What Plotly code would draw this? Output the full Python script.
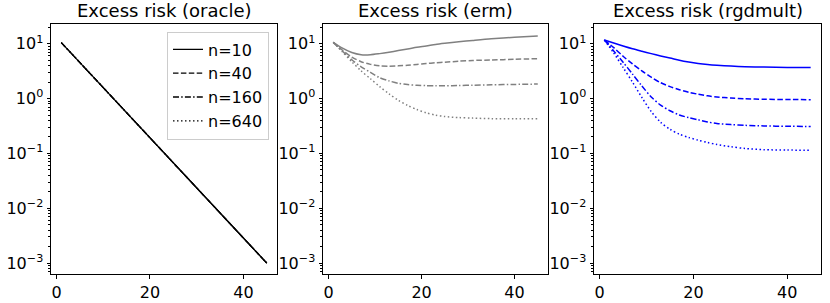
import plotly.graph_objects as go

# ---- data ----
n_labels = ["n=10", "n=40", "n=160", "n=640"]
panel_titles = ["Excess risk (oracle)", "Excess risk (erm)", "Excess risk (rgdmult)"]

oracle_x = [1, 10, 20, 30, 40, 45]
oracle_y = [10.5, 1.58, 0.192, 0.0234, 0.00287, 0.001]

steps = [1, 3, 5, 7, 9, 11, 13, 15, 17, 19, 21, 23, 25, 28, 31, 35, 40, 45]

erm_n10 = [10.6, 8.3, 6.9, 6.3, 6.3, 6.6, 7.0, 7.5, 8.0, 8.6, 9.1, 9.7, 10.2, 10.9, 11.5, 12.3, 13.1, 13.8]
erm_n40 = [10.6, 7.6, 5.7, 4.7, 4.2, 3.95, 3.9, 3.95, 4.05, 4.2, 4.35, 4.5, 4.6, 4.8, 4.95, 5.05, 5.2, 5.35]
erm_n160 = [10.6, 7.3, 5.1, 3.8, 3.0, 2.4, 2.1, 1.9, 1.8, 1.75, 1.72, 1.71, 1.71, 1.73, 1.75, 1.78, 1.81, 1.84]
erm_n640 = [10.6, 7.1, 4.7, 3.2, 2.3, 1.65, 1.22, 0.93, 0.75, 0.63, 0.55, 0.50, 0.47, 0.45, 0.44, 0.43, 0.43, 0.43]

rgd_n10 = [11.7, 10.3, 9.1, 8.1, 7.3, 6.6, 6.0, 5.5, 5.0, 4.63, 4.36, 4.17, 4.04, 3.91, 3.82, 3.75, 3.7, 3.67]
rgd_n40 = [11.7, 8.5, 5.9, 4.3, 3.2, 2.45, 1.95, 1.65, 1.45, 1.3, 1.2, 1.12, 1.07, 1.02, 0.99, 0.97, 0.96, 0.955]
rgd_n160 = [11.7, 7.4, 4.6, 2.8, 1.7, 1.07, 0.76, 0.60, 0.50, 0.45, 0.41, 0.375, 0.35, 0.335, 0.325, 0.317, 0.312, 0.31]
rgd_n640 = [11.7, 6.8, 3.7, 2.0, 1.05, 0.58, 0.37, 0.275, 0.224, 0.195, 0.174, 0.158, 0.145, 0.132, 0.123, 0.117, 0.115, 0.114]

y_tickvals = [10, 1, 0.1, 0.01, 0.001]
y_ticktext = ["10<sup>1</sup>", "10<sup>0</sup>", "10<sup>\u22121</sup>", "10<sup>\u22122</sup>", "10<sup>\u22123</sup>"]
x_tickvals = [0, 20, 40]

# ---- styles ----
dashes = ["solid", "5.5px,2.4px", "6px,2.2px,1.5px,2.2px", "1.5px,2.5px"]
W, H = 830, 303
domains_px = [(51, 277), (323, 548), (594, 821)]
FONT = "DejaVu Sans"

fig = go.Figure()

# oracle panel: same curve for every n
for lab, d in zip(n_labels, dashes):
    fig.add_trace(go.Scatter(x=oracle_x, y=oracle_y, mode="lines", name=lab,
                             line=dict(color="black", width=1.3, dash=d),
                             xaxis="x", yaxis="y", showlegend=True))

for series, color, ax in [((erm_n10, erm_n40, erm_n160, erm_n640), "#808080", "2"),
                          ((rgd_n10, rgd_n40, rgd_n160, rgd_n640), "#0000ff", "3")]:
    for vals, lab, d in zip(series, n_labels, dashes):
        fig.add_trace(go.Scatter(x=steps, y=vals, mode="lines", name=lab,
                                 line=dict(color=color, width=1.5, dash=d, shape="spline", smoothing=0.8),
                                 xaxis="x" + ax, yaxis="y" + ax, showlegend=False))

layout = dict(width=W, height=H, paper_bgcolor="white", plot_bgcolor="white",
              margin=dict(l=0, r=0, t=24, b=29),
              font=dict(family=FONT, size=16, color="black"))

for i, (a, b) in enumerate(domains_px):
    sfx = "" if i == 0 else str(i + 1)
    layout["xaxis" + sfx] = dict(domain=[a / W, b / W], range=[-1.2, 47.2],
                                 tickvals=x_tickvals, ticks="outside", ticklen=3.5,
                                 tickcolor="black", showline=True, mirror=True,
                                 linecolor="black", linewidth=1, showgrid=False,
                                 zeroline=False, anchor="y" + sfx, automargin=False,
                                 tickfont=dict(size=16, family=FONT))
    layout["yaxis" + sfx] = dict(domain=[0, 1], type="log", range=[-3.2, 1.36],
                                 tickvals=y_tickvals, ticktext=y_ticktext,
                                 ticks="outside", ticklen=3.5, tickcolor="black",
                                 minor=dict(ticks="outside", ticklen=2, tickcolor="black",
                                            dtick="D1", showgrid=False),
                                 showline=True, mirror=True, linecolor="black", linewidth=1,
                                 showgrid=False, zeroline=False, anchor="x" + sfx, automargin=False,
                                 tickfont=dict(size=16, family=FONT))

layout["annotations"] = [dict(text=t, x=(a + b) / 2 / W, y=1, xref="paper", yref="paper",
                              xanchor="center", yanchor="bottom", yshift=1, showarrow=False,
                              font=dict(size=18, family=FONT, color="black"))
                         for t, (a, b) in zip(panel_titles, domains_px)]

layout["legend"] = dict(x=269 / W, y=0.97, xanchor="right", yanchor="top",
                        bgcolor="rgba(255,255,255,0.8)", bordercolor="#cccccc", borderwidth=1,
                        font=dict(size=16, family=FONT), tracegroupgap=0, itemwidth=30)

fig.update_layout(**layout)
fig.write_html("out.html", config={"displayModeBar": False},
               post_script="document.body.style.margin='0';document.body.style.overflow='hidden';")
